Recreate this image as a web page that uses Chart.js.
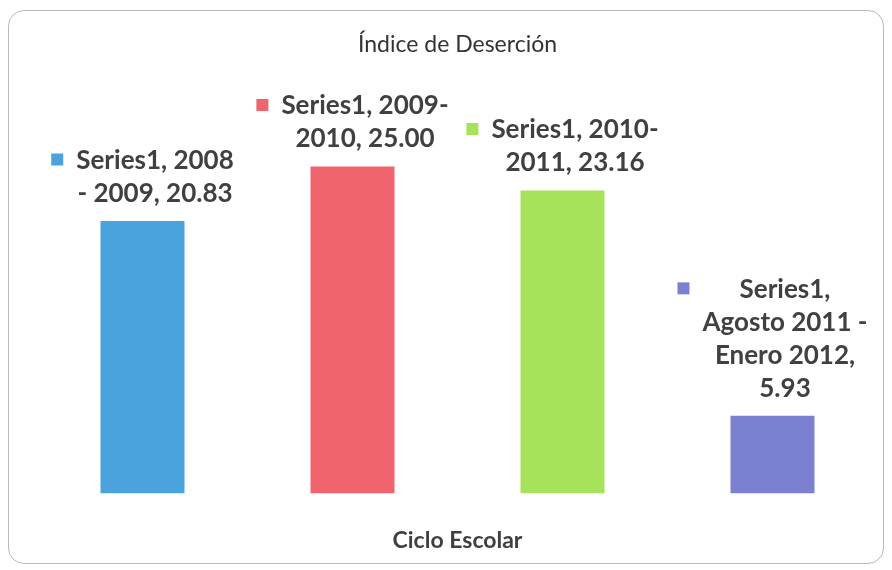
<!DOCTYPE html>
<html>
<head>
<meta charset="utf-8">
<script src="https://cdn.jsdelivr.net/npm/chart.js@4.4.0/dist/chart.umd.min.js"></script>
<style>
    body { margin: 0; background: #fff; }
    #wrap { position: relative; width: 892px; height: 570px; }
    #frame {
        position: absolute; left: 8px; top: 10px; width: 874px; height: 552px;
        border: 1.5px solid #b8b8b8; border-radius: 16px;
    }
    canvas { position: absolute; left: 0; top: 0; }
</style>
</head>
<body>
<div id="wrap">
    <div id="frame"></div>
    <canvas id="myBarChart" width="892" height="570"></canvas>
</div>
<script>
const seriesName = 'Series1';
const categories = ['2008 - 2009', '2009-2010', '2010-2011', 'Agosto 2011 - Enero 2012'];
const values = [20.83, 25.00, 23.16, 5.93];
const barColors = ['#4ba3de', '#f0646e', '#a6e25a', '#7b80d0'];

// split text into lines, breaking after spaces or hyphens
function wrapText(ctx, text, maxWidth) {
    const tokens = text.match(/[^\s-]*-?\s*/g).filter(t => t.length);
    const lines = [];
    let current = '';
    tokens.forEach(tok => {
        const test = current + tok;
        if (current && ctx.measureText(test.trimEnd()).width > maxWidth) {
            lines.push(current.trimEnd());
            current = tok;
        } else {
            current = test;
        }
    });
    if (current) lines.push(current.trimEnd());
    return lines;
}

const barLabels = {
    id: 'barLabels',
    afterDatasetsDraw(chart, args, opts) {
        const ctx = chart.ctx;
        const meta = chart.getDatasetMeta(0);
        ctx.save();
        ctx.font = opts.font;
        meta.data.forEach((bar, i) => {
            const text = seriesName + ', ' + categories[i] + ', ' + values[i].toFixed(2);
            const lines = wrapText(ctx, text, opts.wrapWidths[i]);
            const w = Math.max(...lines.map(l => ctx.measureText(l).width));
            const total = opts.box + opts.gap + w;
            const left = bar.x - total / 2;
            const textX = left + opts.box + opts.gap + w / 2;
            const top = bar.y - opts.offset - lines.length * opts.lineHeight;
            ctx.fillStyle = barColors[i];
            ctx.fillRect(left, top + opts.lineHeight / 2 - opts.box / 2 - 1, opts.box, opts.box);
            ctx.fillStyle = opts.color;
            ctx.textAlign = 'center';
            ctx.textBaseline = 'middle';
            lines.forEach((l, k) => ctx.fillText(l, textX, top + opts.lineHeight * (k + 0.5)));
        });
        ctx.restore();
    }
};

new Chart(document.querySelector('#myBarChart'), {
    type: 'bar',
    data: {
        labels: categories,
        datasets: [{
            label: seriesName,
            data: values,
            backgroundColor: barColors,
            borderWidth: 0,
            categoryPercentage: 1,
            barPercentage: 0.4
        }]
    },
    options: {
        responsive: false,
        animation: false,
        layout: { padding: { left: 37.5, right: 14.5, top: 10, bottom: 10 } },
        plugins: {
            legend: { display: false },
            tooltip: { enabled: false },
            title: {
                display: true,
                text: 'Índice de Deserción',
                color: '#333333',
                font: { family: 'Lato', size: 23, weight: 'normal' },
                padding: { top: 20.5, bottom: 43 }
            },
            barLabels: {
                font: 'bold 26px Lato',
                color: '#404040',
                lineHeight: 33,
                box: 12,
                gap: 13,
                offset: 11,
                wrapWidths: [160, 182, 182, 168]
            }
        },
        scales: {
            x: {
                grid: { display: false },
                border: { display: false },
                ticks: { display: false },
                title: {
                    display: true,
                    text: 'Ciclo Escolar',
                    color: '#404040',
                    font: { family: 'Lato', size: 23, weight: 'bold' },
                    padding: { top: 25, bottom: 6 }
                }
            },
            y: { display: false, min: 0, max: 30 }
        }
    },
    plugins: [barLabels]
});
</script>
</body>
</html>
